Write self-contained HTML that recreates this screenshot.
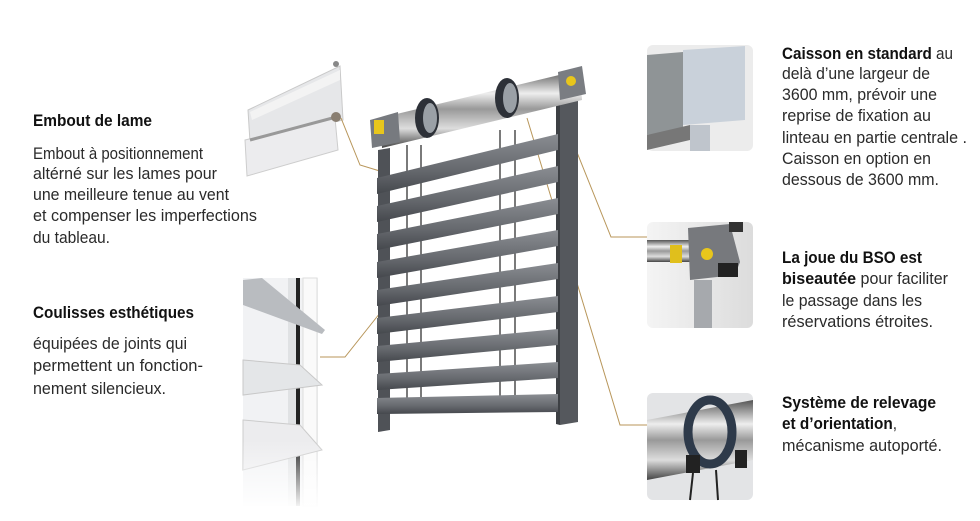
<!DOCTYPE html>
<html><head><meta charset="utf-8"><style>
html,body{margin:0;padding:0;background:#fff;}
svg{display:block;}
text{font-family:"Liberation Sans",sans-serif;font-size:17px;fill:#2a2a2a;}
.b{font-weight:bold;fill:#111;}
</style></head><body>
<svg width="980" height="521" viewBox="0 0 980 521" xmlns="http://www.w3.org/2000/svg">
<defs>
<linearGradient id="tube" x1="0" y1="0" x2="0" y2="1">
<stop offset="0" stop-color="#555"/><stop offset="0.3" stop-color="#eee"/><stop offset="0.5" stop-color="#999"/><stop offset="0.75" stop-color="#ddd"/><stop offset="1" stop-color="#444"/></linearGradient>
<linearGradient id="slat" x1="0" y1="0" x2="0" y2="1">
<stop offset="0" stop-color="#8a8d92"/><stop offset="0.6" stop-color="#66696e"/><stop offset="1" stop-color="#45484d"/></linearGradient>
<linearGradient id="bgR" x1="0" y1="0" x2="1" y2="0">
<stop offset="0" stop-color="#f4f4f4"/><stop offset="1" stop-color="#dcdcdc"/></linearGradient>
<linearGradient id="fadeL" x1="0" y1="0" x2="0" y2="1">
<stop offset="0" stop-color="#fff" stop-opacity="0"/><stop offset="1" stop-color="#fff"/></linearGradient>
</defs>

<!-- LEFT TEXT -->
<text class="b" x="33" y="126" textLength="119" lengthAdjust="spacingAndGlyphs">Embout de lame</text>
<text x="33" y="159" textLength="170" lengthAdjust="spacingAndGlyphs">Embout à positionnement</text>
<text x="33" y="179" textLength="184" lengthAdjust="spacingAndGlyphs">altérné sur les lames pour</text>
<text x="33" y="200" textLength="196" lengthAdjust="spacingAndGlyphs">une meilleure tenue au vent</text>
<text x="33" y="221" textLength="224" lengthAdjust="spacingAndGlyphs">et compenser les imperfections</text>
<text x="33" y="243" textLength="77" lengthAdjust="spacingAndGlyphs">du tableau.</text>
<text class="b" x="33" y="318" textLength="161" lengthAdjust="spacingAndGlyphs">Coulisses esthétiques</text>
<text x="33" y="349" textLength="154" lengthAdjust="spacingAndGlyphs">équipées de joints qui</text>
<text x="33" y="371" textLength="170" lengthAdjust="spacingAndGlyphs">permettent un fonction-</text>
<text x="33" y="394" textLength="133" lengthAdjust="spacingAndGlyphs">nement silencieux.</text>

<!-- RIGHT TEXT -->
<text x="782" y="59" textLength="171" lengthAdjust="spacingAndGlyphs"><tspan class="b">Caisson en standard</tspan> au</text>
<text x="782" y="79" textLength="148" lengthAdjust="spacingAndGlyphs">delà d’une largeur de</text>
<text x="782" y="100" textLength="155" lengthAdjust="spacingAndGlyphs">3600 mm, prévoir une</text>
<text x="782" y="121" textLength="149" lengthAdjust="spacingAndGlyphs">reprise de fixation au</text>
<text x="782" y="143" textLength="185" lengthAdjust="spacingAndGlyphs">linteau en partie centrale .</text>
<text x="782" y="164" textLength="149" lengthAdjust="spacingAndGlyphs">Caisson en option en</text>
<text x="782" y="185" textLength="157" lengthAdjust="spacingAndGlyphs">dessous de 3600 mm.</text>
<text class="b" x="782" y="263" textLength="140" lengthAdjust="spacingAndGlyphs">La joue du BSO est</text>
<text x="782" y="284" textLength="166" lengthAdjust="spacingAndGlyphs"><tspan class="b">biseautée</tspan> pour faciliter</text>
<text x="782" y="306" textLength="140" lengthAdjust="spacingAndGlyphs">le passage dans les</text>
<text x="782" y="327" textLength="151" lengthAdjust="spacingAndGlyphs">réservations étroites.</text>
<text class="b" x="782" y="408" textLength="154" lengthAdjust="spacingAndGlyphs">Système de relevage</text>
<text x="782" y="429" textLength="115" lengthAdjust="spacingAndGlyphs"><tspan class="b">et d’orientation</tspan>,</text>
<text x="782" y="451" textLength="160" lengthAdjust="spacingAndGlyphs">mécanisme autoporté.</text>

<!-- LEFT IMAGE 1 -->
<g>
<polygon points="248,110 340,66 343,120 250,142" fill="#e6e7e9" stroke="#c9c9c9"/>
<polygon points="250,112 340,70 340,80 252,120" fill="#f3f3f3"/>
<polygon points="245,140 335,118 338,150 247,176" fill="#ececee" stroke="#cdcdcd"/>
<line x1="250" y1="140" x2="340" y2="116" stroke="#999" stroke-width="3"/>
<circle cx="336" cy="117" r="5" fill="#8a7f72"/>
<circle cx="336" cy="64" r="3" fill="#888"/>
</g>
<!-- LEFT IMAGE 2 -->
<g>
<rect x="243" y="278" width="75" height="228" fill="#f1f2f4"/>
<rect x="288" y="278" width="12" height="228" fill="#e0e2e4"/>
<rect x="296" y="278" width="4" height="228" fill="#222"/>
<rect x="303" y="278" width="14" height="228" fill="#fafafa" stroke="#ddd"/>
<polygon points="243,280 262,278 325,330 322,334 243,305" fill="#b9bcc0"/>
<polygon points="243,360 300,365 322,385 243,395" fill="#e4e6e8" stroke="#c8c8c8"/>
<polygon points="243,420 300,425 322,450 243,470" fill="#ececee" stroke="#ccc"/>
<rect x="243" y="440" width="80" height="70" fill="url(#fadeL)"/>
</g>

<!-- CONNECTORS -->
<g stroke="#b8965a" stroke-width="1" fill="none">
<polyline points="341,118 360,165 383,172"/>
<polyline points="320,357 345,357 380,313"/>
<polyline points="560,110 611,237 648,237"/>
<polyline points="527,118 620,425 648,425"/>
</g>

<!-- MAIN PRODUCT -->
<g>
<polygon points="378,150 390,148 390,430 378,432" fill="#4f5257"/>
<polygon points="560,100 578,96 578,422 560,425" fill="#55585d"/>
<polygon points="556,102 560,100 560,425 556,424" fill="#3d4044"/>
<g stroke="#222" stroke-width="1.2">
<line x1="407" y1="145" x2="407" y2="400"/><line x1="421" y1="145" x2="421" y2="400"/>
<line x1="500" y1="130" x2="500" y2="410"/><line x1="515" y1="130" x2="515" y2="410"/>
</g>
<g>
<polygon points="377,178 558,134 558,150 377,194" fill="url(#slat)"/>
<polygon points="377,206 558,166 558,182 377,222" fill="url(#slat)"/>
<polygon points="377,234 558,198 558,214 377,250" fill="url(#slat)"/>
<polygon points="377,262 558,230 558,246 377,278" fill="url(#slat)"/>
<polygon points="377,290 558,263 558,279 377,306" fill="url(#slat)"/>
<polygon points="377,318 558,296 558,312 377,334" fill="url(#slat)"/>
<polygon points="377,346 558,329 558,345 377,362" fill="url(#slat)"/>
<polygon points="377,374 558,362 558,378 377,390" fill="url(#slat)"/>
<polygon points="377,398 558,394 558,412 377,414" fill="url(#slat)"/>
</g>
<polygon points="380,118 580,70 582,100 382,148" fill="url(#tube)"/>
<polygon points="370,120 398,112 400,142 372,148" fill="#777a7f"/>
<rect x="374" y="120" width="10" height="14" fill="#e8c61c"/>
<polygon points="558,72 582,66 586,94 560,100" fill="#7a7d82"/>
<rect x="566" y="76" width="10" height="10" rx="5" fill="#e8c61c"/>
<ellipse cx="427" cy="118" rx="12" ry="20" fill="#2d3138"/>
<ellipse cx="430" cy="118" rx="7" ry="15" fill="#9aa0a6"/>
<ellipse cx="507" cy="98" rx="12" ry="20" fill="#2d3138"/>
<ellipse cx="510" cy="98" rx="7" ry="15" fill="#9aa0a6"/>
</g>

<!-- RIGHT IMAGE 1 -->
<g>
<rect x="647" y="45" width="106" height="106" rx="6" fill="#ececec"/>
<polygon points="647,55 683,52 683,130 647,135" fill="#8f9496"/>
<polygon points="683,50 745,46 745,120 683,125" fill="#c9d1da"/>
<rect x="690" y="125" width="20" height="26" fill="#bfc5cc"/>
<polygon points="647,135 690,125 690,140 647,150" fill="#777"/>
</g>
<!-- RIGHT IMAGE 2 -->
<g>
<rect x="647" y="222" width="106" height="106" rx="6" fill="url(#bgR)"/>
<rect x="647" y="240" width="50" height="22" fill="url(#tube)"/>
<rect x="670" y="245" width="12" height="18" fill="#e0bf1c"/>
<polygon points="688,228 730,224 740,262 735,275 690,280" fill="#77797d"/>
<circle cx="707" cy="254" r="6" fill="#e8c61c"/>
<rect x="718" y="263" width="20" height="14" fill="#222"/>
<rect x="694" y="280" width="18" height="48" fill="#a6a9ad"/>
<rect x="729" y="222" width="14" height="10" fill="#333"/>
</g>
<!-- RIGHT IMAGE 3 -->
<g>
<rect x="647" y="393" width="106" height="107" rx="6" fill="#e3e4e6"/>
<polygon points="647,420 753,400 753,460 647,480" fill="url(#tube)"/>
<ellipse cx="710" cy="432" rx="22" ry="32" fill="none" stroke="#2e3a4a" stroke-width="9"/>
<rect x="686" y="455" width="14" height="18" fill="#222"/>
<rect x="735" y="450" width="12" height="18" fill="#222"/>
<line x1="693" y1="473" x2="690" y2="500" stroke="#222" stroke-width="2"/>
<line x1="716" y1="470" x2="718" y2="500" stroke="#222" stroke-width="2"/>
</g>
</svg>
</body></html>
